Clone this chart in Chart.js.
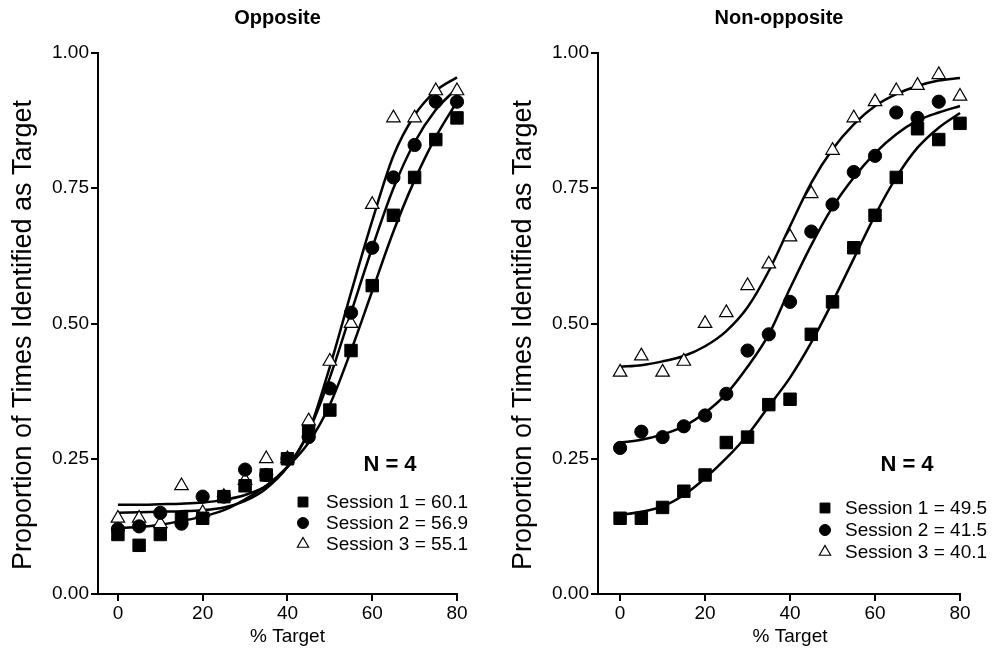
<!DOCTYPE html>
<html>
<head>
<meta charset="utf-8">
<script src="https://cdn.jsdelivr.net/npm/chart.js@4.4.1/dist/chart.umd.min.js"></script>
<style>
  html, body { margin: 0; padding: 0; background: #fff; }
  #wrap { position: relative; width: 994px; height: 655px; }
  canvas { position: absolute; top: 0; }
</style>
</head>
<body>
<div id="wrap">
  <canvas id="left" width="497" height="655" style="left:0"></canvas>
  <canvas id="right" width="497" height="655" style="left:497px"></canvas>
</div>
<script>
// % target levels (x)
const targetPct = [0, 5, 10, 15, 20, 25, 30, 35, 40, 45, 50, 55, 60, 65, 70, 75, 80];
const xTicks = [0, 20, 40, 60, 80];
const yTicks = [0, 0.25, 0.5, 0.75, 1];

// Opposite panel: observed proportions
const oppS1 = [0.11, 0.09, 0.11, 0.14, 0.14, 0.18, 0.20, 0.22, 0.25, 0.30, 0.34, 0.45, 0.57, 0.70, 0.77, 0.84, 0.88];
const oppS2 = [0.12, 0.125, 0.15, 0.13, 0.18, 0.18, 0.23, 0.22, 0.25, 0.29, 0.38, 0.52, 0.64, 0.77, 0.83, 0.91, 0.91];
const oppS3 = [0.14, 0.14, 0.13, 0.20, 0.15, 0.18, 0.21, 0.25, 0.25, 0.32, 0.43, 0.50, 0.72, 0.88, 0.88, 0.93, 0.93];
// Opposite panel: fitted curves
const oppFit1 = [0.122, 0.124, 0.128, 0.135, 0.143, 0.155, 0.175, 0.20, 0.235, 0.28, 0.35, 0.45, 0.56, 0.67, 0.765, 0.845, 0.91];
const oppFit2 = [0.15, 0.151, 0.152, 0.153, 0.155, 0.16, 0.172, 0.195, 0.235, 0.30, 0.40, 0.52, 0.64, 0.75, 0.835, 0.895, 0.935];
const oppFit3 = [0.165, 0.165, 0.166, 0.167, 0.169, 0.174, 0.183, 0.20, 0.235, 0.30, 0.42, 0.557, 0.69, 0.81, 0.885, 0.93, 0.955];
const oppThresholds = ['60.1', '56.9', '55.1'];

// Non-opposite panel: observed proportions
const nonS1 = [0.14, 0.14, 0.16, 0.19, 0.22, 0.28, 0.29, 0.35, 0.36, 0.48, 0.54, 0.64, 0.70, 0.77, 0.86, 0.84, 0.87];
const nonS2 = [0.27, 0.30, 0.29, 0.31, 0.33, 0.37, 0.45, 0.48, 0.54, 0.67, 0.72, 0.78, 0.81, 0.89, 0.88, 0.91, null];
const nonS3 = [0.41, 0.44, 0.41, 0.43, 0.50, 0.52, 0.57, 0.61, 0.66, 0.74, 0.82, 0.88, 0.91, 0.93, 0.94, 0.96, 0.92];
// Non-opposite panel: fitted curves
const nonFit1 = [0.146, 0.152, 0.162, 0.183, 0.214, 0.251, 0.294, 0.347, 0.40, 0.465, 0.54, 0.62, 0.70, 0.77, 0.825, 0.862, 0.889];
const nonFit2 = [0.28, 0.285, 0.295, 0.31, 0.335, 0.37, 0.42, 0.48, 0.565, 0.645, 0.715, 0.77, 0.815, 0.85, 0.875, 0.89, 0.902];
const nonFit3 = [0.42, 0.423, 0.43, 0.44, 0.458, 0.486, 0.53, 0.597, 0.68, 0.76, 0.822, 0.868, 0.902, 0.924, 0.939, 0.949, 0.954];
const nonThresholds = ['49.5', '41.5', '40.1'];

const sessionNames = ['Session 1', 'Session 2', 'Session 3'];
const FONT = "'Liberation Sans', Arial, Helvetica, sans-serif";

// marker look per session
const markers = [
  { pointStyle: 'rect', radius: 8.8, fill: '#000', border: 1, legendRadius: 7 },
  { pointStyle: 'circle', radius: 6.6, fill: '#000', border: 1, legendRadius: 5.5 },
  { pointStyle: 'triangle', radius: 7.8, fill: '#fff', border: 1.2, legendRadius: 6.5 },
];

function toXY(vals) {
  return targetPct.map((x, i) => ({ x: x, y: vals[i] })).filter(p => p.y !== null);
}

const panelText = {
  id: 'panelText',
  afterDraw(chart, args, opts) {
    const { ctx, chartArea } = chart;
    const xs = chart.scales.x;
    ctx.save();
    ctx.fillStyle = '#000';
    ctx.textBaseline = 'middle';
    // panel title
    ctx.textAlign = 'center';
    ctx.font = 'bold 20px ' + FONT;
    ctx.fillText(opts.title, (chartArea.left + chartArea.right) / 2, 18);
    // x axis title, centred on the 0-80 range
    ctx.font = '19px ' + FONT;
    ctx.fillText('% Target', xs.getPixelForValue(40), 637);
    // y axis title
    ctx.save();
    ctx.translate(opts.yTitleX, 335);
    ctx.rotate(-Math.PI / 2);
    ctx.font = '27px ' + FONT;
    ctx.fillText('Proportion of Times Identified as Target', 0, 0);
    ctx.restore();
    // N = 4
    ctx.font = 'bold 22px ' + FONT;
    ctx.fillText('N = 4', chartArea.right + opts.nX, chartArea.bottom + opts.nY);
    // legend rows
    ctx.textAlign = 'left';
    ctx.font = '19px ' + FONT;
    opts.rows.forEach((dy, i) => {
      const y = chartArea.bottom + dy;
      const m = markers[i];
      ctx.fillStyle = m.fill;
      ctx.strokeStyle = '#000';
      ctx.lineWidth = m.border;
      Chart.helpers.drawPoint(ctx, { pointStyle: m.pointStyle, radius: m.legendRadius, borderWidth: m.border, rotation: 0 },
        chartArea.right + opts.markX, y);
      ctx.fillStyle = '#000';
      ctx.fillText(sessionNames[i] + ' = ' + opts.thresholds[i], chartArea.right + opts.textX, y + 1);
    });
    ctx.restore();
  }
};

function makePanel(id, cfg) {
  const datasets = [];
  cfg.fits.forEach(f => {
    datasets.push({
      type: 'line', data: toXY(f), borderColor: '#000', borderWidth: 2.5, clip: false,
      pointRadius: 0, fill: false, cubicInterpolationMode: 'monotone', order: 2
    });
  });
  cfg.obs.forEach((o, i) => {
    const m = markers[i];
    datasets.push({
      type: 'scatter', data: toXY(o), showLine: false, clip: false,
      pointStyle: m.pointStyle, pointRadius: m.radius, backgroundColor: m.fill,
      borderColor: '#000', borderWidth: m.border, order: 1
    });
  });

  const axisLine = { display: true, color: '#000', width: 2 };
  const tickGrid = { drawOnChartArea: false, drawTicks: true, tickLength: 7, color: '#000', lineWidth: 2 };

  return new Chart(document.getElementById(id), {
    type: 'scatter',
    data: { datasets },
    options: {
      responsive: false,
      animation: false,
      devicePixelRatio: 1,
      layout: { padding: { left: 0, right: cfg.padRight, top: 53, bottom: 0 } },
      plugins: {
        legend: { display: false },
        tooltip: { enabled: false },
        panelText: cfg.text
      },
      scales: {
        x: {
          type: 'linear', min: cfg.xMin, max: 80,
          afterBuildTicks: s => { s.ticks = xTicks.map(v => ({ value: v })); },
          afterFit: s => { s.height = 61; },
          grid: tickGrid, border: axisLine,
          ticks: { color: '#000', font: { family: FONT, size: 19 }, padding: 1, maxRotation: 0 }
        },
        y: {
          type: 'linear', min: 0, max: 1,
          afterBuildTicks: s => { s.ticks = yTicks.map(v => ({ value: v })); },
          afterFit: s => { s.width = cfg.yAxisW; },
          grid: tickGrid, border: axisLine,
          ticks: { color: '#000', font: { family: FONT, size: 19 }, padding: 2, callback: v => v.toFixed(2) }
        }
      }
    },
    plugins: [panelText]
  });
}

makePanel('left', {
  obs: [oppS1, oppS2, oppS3],
  fits: [oppFit1, oppFit2, oppFit3],
  xMin: -4.7, padRight: 40, yAxisW: 98,
  text: { title: 'Opposite', thresholds: oppThresholds, yTitleX: 24, nX: -67, nY: -129, rows: [-92, -71, -50], markX: -154, textX: -131 }
});

makePanel('right', {
  obs: [nonS1, nonS2, nonS3],
  fits: [nonFit1, nonFit2, nonFit3],
  xMin: -5.2, padRight: 34, yAxisW: 101,
  text: { title: 'Non-opposite', thresholds: nonThresholds, yTitleX: 27, nX: -53, nY: -129, rows: [-86, -64, -42], markX: -135, textX: -115 }
});
</script>
</body>
</html>
